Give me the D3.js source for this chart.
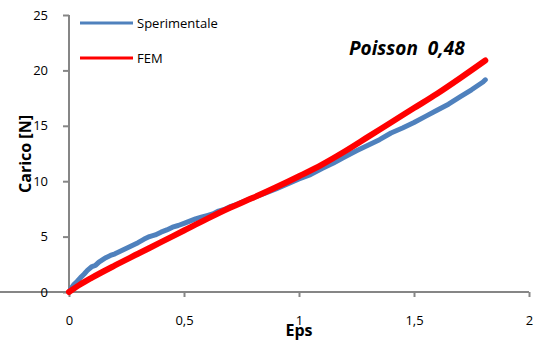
<!DOCTYPE html>
<html><head><meta charset="utf-8">
<script src="https://cdn.jsdelivr.net/npm/d3@7"></script>
<style>
body{margin:0;background:#fff;}
text{font-family:"Open Sans","Liberation Sans",sans-serif;}
</style></head>
<body><svg id="c" width="534" height="345"></svg>
<script>
const xTicks = [0, 0.5, 1, 1.5, 2];
const yTicks = [0, 5, 10, 15, 20, 25];
const xTickLabels = ["0", "0,5", "1", "1,5", "2"];
const expEps  = [0,0.01,0.02,0.035,0.05,0.065,0.08,0.1,0.115,0.13,0.145,0.16,0.18,0.2,0.225,0.25,0.275,0.3,0.325,0.35,0.375,0.4,0.425,0.45,0.475,0.5,0.525,0.55,0.575,0.6,0.625,0.65,0.675,0.7,0.725,0.75,0.8,0.85,0.9,0.95,1.0,1.05,1.1,1.15,1.2,1.25,1.3,1.35,1.4,1.45,1.5,1.55,1.6,1.65,1.7,1.75,1.8,1.81];
const expLoad = [0,0.35,0.65,0.95,1.3,1.6,1.95,2.3,2.4,2.7,2.9,3.1,3.3,3.45,3.7,3.95,4.2,4.45,4.75,5.0,5.15,5.4,5.6,5.85,6.0,6.2,6.4,6.6,6.75,6.9,7.05,7.3,7.45,7.7,7.85,8.1,8.5,8.9,9.3,9.75,10.2,10.6,11.15,11.65,12.2,12.75,13.25,13.75,14.35,14.8,15.3,15.85,16.4,16.95,17.6,18.25,18.95,19.15];
const femEps  = [0,0.05,0.1,0.2,0.3,0.4,0.5,0.6,0.7,0.8,0.9,1.0,1.1,1.2,1.3,1.4,1.5,1.6,1.7,1.81];
const femLoad = [0,0.7,1.3,2.4,3.45,4.5,5.55,6.6,7.6,8.5,9.45,10.45,11.5,12.7,14.0,15.3,16.6,17.9,19.3,20.9];

const svg = d3.select("#c");
const x = d3.scaleLinear().domain([0,2]).range([69,529]);
const y = d3.scaleLinear().domain([0,25]).range([292,15]);
const axisColor = "#868686";

const gx = svg.append("g").attr("transform","translate(0,292)")
  .call(d3.axisBottom(x).tickValues(xTicks).tickSize(5).tickPadding(19).tickFormat((d,i)=>xTickLabels[i]));
const gy = svg.append("g").attr("transform","translate(69,0)")
  .call(d3.axisLeft(y).tickValues(yTicks).tickSize(6).tickPadding(15));
[gx,gy].forEach(g=>{
  g.select(".domain").attr("stroke",axisColor).attr("stroke-width",2);
  g.selectAll(".tick line").attr("stroke",axisColor).attr("stroke-width",2);
  g.selectAll(".tick text").attr("fill","#000").style("font-size","13px").style("font-family","'Open Sans',sans-serif");
});
gy.select(".domain").attr("d","M0,15V292");
gx.select(".domain").attr("d","M0,0H529");

const line = d3.line().x(d=>x(d[0])).y(d=>y(d[1]));
svg.append("path").datum(expEps.map((e,i)=>[e,expLoad[i]]))
  .attr("d",line).attr("fill","none").attr("stroke","#4F81BD").attr("stroke-width",5).attr("stroke-linecap","round").attr("stroke-linejoin","round");
svg.append("path").datum(femEps.map((e,i)=>[e,femLoad[i]]))
  .attr("d",d3.line().x(d=>x(d[0])).y(d=>y(d[1])).curve(d3.curveMonotoneX)).attr("fill","none").attr("stroke","#FF0000").attr("stroke-width",6).attr("stroke-linecap","round");

// legend
const leg = [["Sperimentale","#4F81BD",23],["FEM","#FF0000",58]];
leg.forEach(([t,c,yy])=>{
  svg.append("line").attr("x1",80).attr("x2",133).attr("y1",yy).attr("y2",yy).attr("stroke",c).attr("stroke-width",3);
  svg.append("text").attr("x",137).attr("y",yy).attr("dy","0.35em").style("font-size","13px").text(t);
});

svg.append("text").attr("x",349).attr("y",55).style("font-size","19px").style("font-weight","bold").style("font-style","italic").attr("xml:space","preserve").text("Poisson  0,48");

svg.append("text").attr("x",299).attr("y",336).attr("text-anchor","middle").style("font-size","16px").style("font-weight","bold").text("Eps");
svg.append("text").attr("transform","translate(31,154) rotate(-90)").attr("text-anchor","middle").style("font-size","16px").style("font-weight","bold").text("Carico [N]");
</script></body></html>
